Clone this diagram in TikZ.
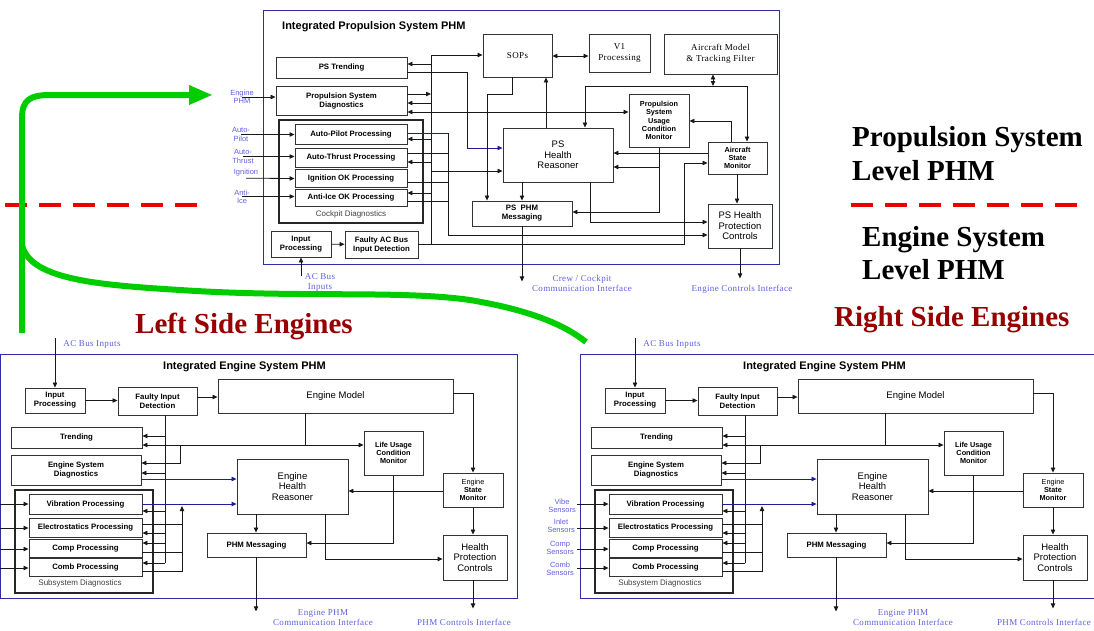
\documentclass[tikz,border=0pt]{standalone}
\usepackage{fontspec}
\setmainfont{Liberation Sans}
\newfontfamily\tms[LetterSpace=4]{Liberation Serif}
\newfontfamily\tmsbig{Liberation Serif}
\usetikzlibrary{arrows.meta}

\definecolor{framebl}{RGB}{45,45,165}
\definecolor{labbl}{RGB}{95,95,225}
\definecolor{wirebl}{RGB}{30,30,150}
\definecolor{grn}{RGB}{0,205,0}
\definecolor{dkred}{RGB}{150,0,0}
\definecolor{dashred}{RGB}{235,0,0}

\tikzset{
  box/.style={draw=black!80,line width=0.9pt,fill=white,align=center,inner sep=1pt,font=\bfseries\fontsize{7.8}{9}\selectfont},
  rbox/.style={box,font=\fontsize{9.5}{10.5}\selectfont},
  sbox/.style={box,font=\tms\fontsize{9}{11}\selectfont},
  mbox/.style={box,font=\bfseries\fontsize{7.3}{8.3}\selectfont},
  grpbox/.style={draw=black!85,line width=1.1pt,inner sep=0pt},
  sz/.style 2 args={minimum width=#1pt,minimum height=#2pt},
  wire/.style={line width=0.8pt,draw=black!90},
  bwire/.style={wire,draw=wirebl},
  frame/.style={draw=framebl,line width=1pt},
  inlab/.style={text=labbl,align=center,font=\fontsize{7.5}{8.2}\selectfont,inner sep=0pt},
  outlab/.style={text=labbl,align=center,font=\tms\fontsize{9}{10}\selectfont,inner sep=0pt},
  ttl/.style={anchor=west,inner sep=0pt,font=\bfseries\fontsize{11}{13}\selectfont},
  big/.style={anchor=base west,inner sep=0pt,font=\tmsbig\bfseries\fontsize{29}{34}\selectfont},
}

\begin{document}
\begin{tikzpicture}[x=1pt,y=-1pt,>={Triangle[length=5pt,width=4.4pt]}]
\useasboundingbox (0,0) rectangle (1094,630);
\clip (0,0) rectangle (1094,630);

% propulsion system module
\draw[frame] (263,10) rectangle (779,264);
\node[ttl] (pstitle) at (282,27) {Integrated Propulsion System PHM};
\node[grpbox,sz={144}{103}] (cpd) at (351,171.5) {};
\node[anchor=south,font=\fontsize{8}{9}\selectfont,text=black!75] (cpdlab) at (351,222) {Cockpit Diagnostics};
\node[box,sz={131}{21}] (trend) at (341.5,67.5) {PS Trending};
\node[box,sz={131}{29}] (psd) at (341.5,100.5) {Propulsion System\\Diagnostics};
\node[box,sz={112}{20}] (ap) at (351,134) {Auto-Pilot Processing};
\node[box,sz={112}{19}] (atp) at (351,157.5) {Auto-Thrust Processing};
\node[box,sz={112}{18}] (ign) at (351,178) {Ignition OK Processing};
\node[box,sz={112}{17}] (aic) at (351,197.5) {Anti-Ice OK Processing};
\node[box,sz={60}{26}] (tinp) at (301,244) {Input\\Processing};
\node[box,sz={73}{27}] (tflt) at (381.5,244.5) {Faulty AC Bus\\Input Detection};
\node[sbox,sz={69}{43}] (sops) at (517.5,55.5) {SOPs};
\node[sbox,sz={61}{38}] (vone) at (619.5,53) {V1\\Processing};
\node[sbox,sz={113}{40}] (acm) at (720.5,54) {Aircraft Model\\\& Tracking Filter};
\node[mbox,sz={60}{53}] (ucm) at (659,120.5) {Propulsion\\System\\Usage\\Condition\\Monitor};
\node[rbox,sz={110}{54}] (reas) at (558,155) {PS\\Health\\Reasoner};
\node[mbox,sz={59}{32}] (asm) at (737.5,158) {Aircraft\\State\\Monitor};
\node[box,sz={100}{25}] (pmsg) at (522,213.5) {PS\ \ PHM\\Messaging};
\node[rbox,sz={64}{44}] (phpc) at (740,226) {PS Health\\Protection\\Controls};

\node[inlab] (lbeng) at (242,97) {Engine\\PHM};
\node[inlab] (lbap) at (241,134.5) {Auto-\\Pilot};
\node[inlab] (lbat) at (243,156.5) {Auto-\\Thrust};
\node[inlab] (lbign) at (246,173) {Ignition};
\node[inlab] (lbai) at (242,196.5) {Anti-\\Ice};
\draw[wire,->] (lbeng.center) -- (psd.west|-lbeng.center);
\draw[wire,->] (lbap.center) -- (ap.west|-lbap.center);
\draw[wire,->] (lbat.center) -- (atp.west|-lbat.center);
\draw[wire,->] ([yshift=-1.5pt]lbign.south) -- (ign.west|-0,178.5);
\draw[wire,->] (lbai.center) -- (aic.west|-lbai.center);

\draw[wire,->] (tinp) -- (tflt);
\draw[wire,->] (tflt.east) -| (431,55) -- (sops.west|-0,55);
\draw[wire,->] (tflt.east) -| (684,163) -- (asm.west|-0,163);
\draw[wire,<-] (trend.east|-0,64) -- (431,64);
\draw[wire] (trend.east|-0,72) -| (467,148);
\draw[bwire,->] (467,148) -- (reas.west|-0,148);
\draw[wire,->] (psd.east|-0,94) -- (431,94);
\draw[wire,<-] (psd.east|-0,103) -- (431,103);
\draw[wire,<->] (psd.east|-0,112) -- (ucm.west|-0,112);
\draw[wire,->] (sops.south-|512,0) -- (512,94) -| (pmsg.north-|487,0);
\draw[wire,->] (reas.north-|546,0) -- (sops.south-|546,0);
\draw[wire,<->] (sops.east|-0,56) -- (vone.west|-0,56);
\draw[wire,<->] (acm.south-|713,0) -- (713,86);
\draw[wire,->] (713,86) -| (reas.north-|585,0);
\draw[wire,->] (713,86) -| (asm.north-|747,0);
\draw[wire,->] (asm.north-|731,0) |- (ucm.east|-0,121);
\draw[wire,->] (asm.west|-0,153) -- (reas.east|-0,153);
\draw[wire,->] (ucm.south) |- (pmsg.east|-0,212);
\draw[wire,->] (659,167) -- (reas.east|-0,167);
\draw[wire,->] (reas.south-|522,0) -- (pmsg.north-|522,0);
\draw[wire,->] (reas.south-|590,0) |- (phpc.west|-0,222);
\draw[bwire] (ap.east|-0,133) -- (448,133);
\draw[wire,->] (448,133) |- (phpc.west|-0,235);
\draw[wire] (atp.east|-0,153) -- (448,153);
\draw[wire] (ign.east|-0,182) -- (448,182);
\draw[wire] (aic.east|-0,201) -- (448,201);
\draw[wire,<-] (ap.east|-0,139) -- (431,139);
\draw[wire,<-] (atp.east|-0,162) -- (431,162);
\draw[wire,<-] (aic.east|-0,193) -- (431,193);
\draw[wire,->] (431,171) -- (reas.west|-0,171);
\draw[wire,->] (asm.south-|737,0) -- (phpc.north-|737,0);

\node[outlab] (acbt) at (320,282) {AC Bus\\Inputs};
\draw[wire,->] (tinp.south|-0,276) -- (tinp.south);
\node[outlab] (crew) at (582,283.5) {Crew / Cockpit\\Communication Interface};
\draw[wire,->] (pmsg.south) -- ++(0,55) coordinate (crewout);
\node[outlab] (ecil) at (742,289) {Engine Controls Interface};
\draw[wire,->] (phpc.south) -- ++(0,30) coordinate (ecout);

% engine system modules, left and right
\foreach \dx/\s in {0/l,580/r}{
\begin{scope}[xshift=\dx pt]
\draw[frame] (0.8,354) rectangle (517,598);
\node[ttl] (ttl\s) at (163,367) {Integrated Engine System PHM};
\node[grpbox,sz={138}{103}] (ssd\s) at (84,541.5) {};
\node[anchor=south,font=\fontsize{8}{9}\selectfont,text=black!75] (ssdlab\s) at (80,591) {Subsystem Diagnostics};
\node[box,sz={60}{25}] (inp\s) at (55,400.5) {Input\\Processing};
\node[box,sz={79}{28}] (flt\s) at (157.5,401) {Faulty Input\\Detection};
\node[rbox,sz={235}{34}] (mdl\s) at (335.5,396) {Engine Model};
\node[box,sz={131}{21}] (trd\s) at (76.5,437.5) {Trending};
\node[box,sz={130}{30}] (esd\s) at (76,470) {Engine System\\Diagnostics};
\node[box,sz={113}{20}] (vib\s) at (85.5,504) {Vibration Processing};
\node[box,sz={113}{19}] (ele\s) at (85.5,527.5) {Electrostatics Processing};
\node[box,sz={113}{18}] (cmp\s) at (85.5,548) {Comp Processing};
\node[box,sz={113}{18}] (cmb\s) at (85.5,567) {Comb Processing};
\node[mbox,sz={59}{44}] (luc\s) at (393.5,453) {Life Usage\\Condition\\Monitor};
\node[rbox,sz={111}{55}] (ehr\s) at (292.5,486.5) {Engine\\Health\\Reasoner};
\node[mbox,sz={60}{34}] (esm\s) at (473,490) {{\mdseries Engine}\\State\\Monitor};
\node[box,sz={99}{24}] (msg\s) at (256.5,545) {PHM Messaging};
\node[rbox,sz={64}{45}] (hpc\s) at (475,557.5) {Health\\Protection\\Controls};

\node[outlab] (acb\s) at (92,344) {AC Bus Inputs};
\draw[wire,->] (inp\s.north|-0,338) -- (inp\s.north);
\draw[wire,->] (inp\s) -- (flt\s.west|-inp\s);
\draw[wire,->] (flt\s.east|-0,397) -- (mdl\s.west|-0,397);
\draw[wire] (flt\s.south-|165,0) -- (165,563);
\foreach \y/\n in {436/trd,473/esd,511/vib,533/ele,543/cmp,563/cmb}
  \draw[wire,->] (165,\y) -- (\n\s.east|-0,\y);
\draw[wire,->] (mdl\s.south-|305,0) |- (luc\s.west|-0,445);
\draw[wire,->] (305,445) -- (trd\s.east|-0,445);
\draw[wire,->] (180,445) |- (esd\s.east|-0,463);
\draw[bwire,->] (esd\s.east|-0,479) -- (ehr\s.west|-0,479);
\draw[bwire,->] (vib\s.east|-0,504) -- (ehr\s.west|-0,504);
\draw[wire,->] (cmb\s.east|-0,571) -| (182,506);
\draw[wire] (ele\s.east|-0,524) -- (182,524);
\draw[wire] (cmp\s.east|-0,552) -- (182,552);
\draw[wire,->] (mdl\s.east|-0,393) -| (esm\s.north);
\draw[wire,->] (esm\s.west|-0,491) -- (ehr\s.east|-0,491);
\draw[wire,->] (luc\s.south) |- (msg\s.east|-0,543);
\draw[wire,->] (ehr\s.south-|256,0) -- (msg\s.north-|256,0);
\draw[wire,->] (ehr\s.south-|325,0) |- (hpc\s.west|-0,559);
\draw[wire,->] (esm\s.south) -- (hpc\s.north-|esm\s.south);
\draw[wire,->] (msg\s.south-|256,0) -- ++(0,54) coordinate (cmo\s);
\draw[wire,->] (hpc\s.south-|473,0) -- ++(0,28) coordinate (pco\s);
\foreach \y/\n in {504/vib,528/ele,549/cmp,568/cmb}
  \draw[wire,->] (-3,\y) coordinate (in\n\s) -- (\n\s.west|-0,\y);
\node[outlab] (cml\s) at (323,618) {Engine PHM\\Communication Interface};
\node[outlab] (pcl\s) at (464,622) {PHM Controls Interface};
\end{scope}
}

\node[inlab] (vibe) at (562,506) {Vibe\\Sensors};
\node[inlab] (inlet) at (561,526) {Inlet\\Sensors};
\node[inlab] (comps) at (560,548) {Comp\\Sensors};
\node[inlab] (combs) at (560,569) {Comb\\Sensors};

% level captions
\node[big] (psl1) at (852,146) {Propulsion System};
\node[big] (psl2) at (852,180) {Level PHM};
\node[big] (esl1) at (862,246) {Engine System};
\node[big] (esl2) at (862,279) {Level PHM};
\node[big,text=dkred] (lse) at (135,333) {Left Side Engines};
\node[big,text=dkred] (rse) at (834,326) {Right Side Engines};
\draw[dashred,line width=3.5pt,dash pattern=on 22pt off 12pt] (851,205) -- (1082,205);
\draw[dashred,line width=3.5pt,dash pattern=on 22pt off 12pt] (5,205) -- (198,205);

% green marks
\coordinate (gstart) at (22,333);
\coordinate (gtip) at (213,95);
\draw[grn,line width=6pt,-{Triangle[length=24pt,width=18pt]}] (gstart) -- (22,118) .. controls (22,100) and (30,95) .. (50,95) -- (gtip);
\draw[grn,line width=6pt] (22,245) .. controls (30,280) and (100,285) .. (180,290) .. controls (300,298) and (400,290) .. (470,300) .. controls (530,310) and (565,325) .. (586,342);
\end{tikzpicture}
\end{document}
